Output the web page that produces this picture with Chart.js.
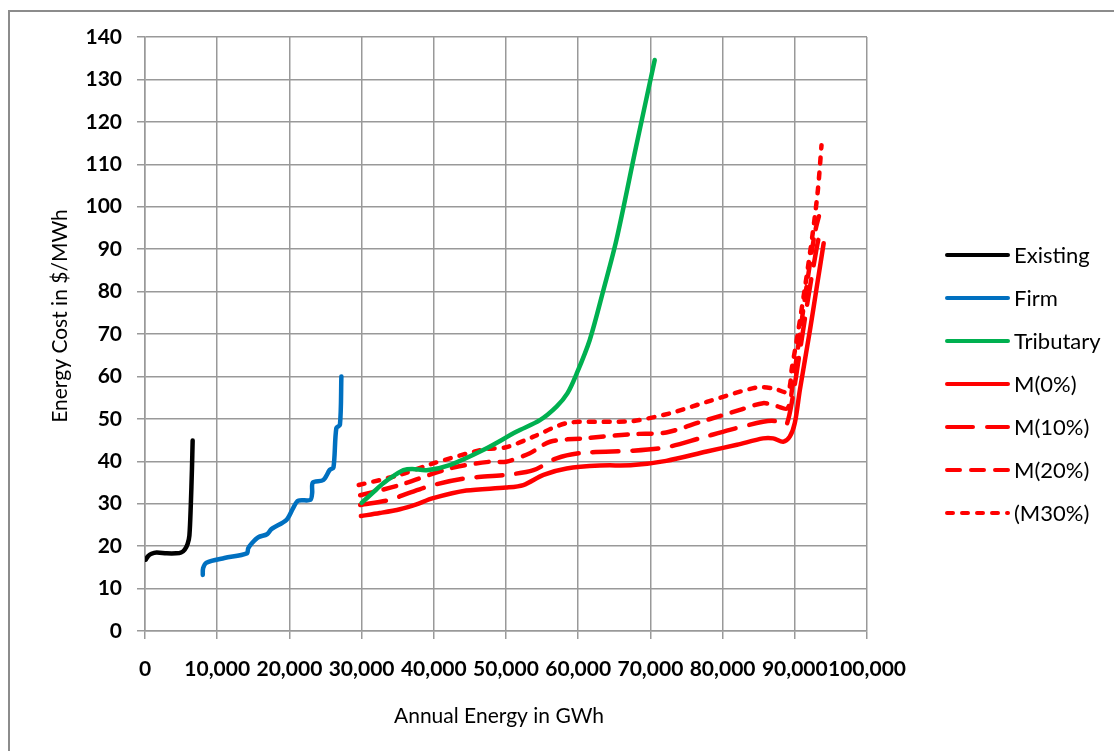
<!DOCTYPE html>
<html>
<head>
<meta charset="utf-8">
<title>Energy Cost Supply Curves</title>
<script src="https://cdn.jsdelivr.net/npm/chart.js@4/dist/chart.umd.min.js"></script>
<style>
  html, body { margin: 0; padding: 0; background: #ffffff; }
  canvas { display: block; }
</style>
</head>
<body>
<canvas id="chart" width="1114" height="751"></canvas>
<script>
// Supply curves: annual energy (GWh) against energy cost ($/MWh)
const existingEnergy = [100, 400, 900, 1600, 3000, 4300, 5000, 5500, 5900, 6150, 6350, 6500, 6600];
const existingCost   = [16.8, 17.6, 18.2, 18.5, 18.3, 18.3, 18.5, 19.2, 20.5, 22.5, 30, 38, 44.9];

const firmEnergy = [8000, 8050, 8500, 11000, 14100, 14300, 14800, 15700, 16900, 17500, 19600, 20500, 21200, 22900, 23150, 23250, 24700, 25600, 26100, 26500, 27000, 27200];
const firmCost   = [13.2, 14.8, 16.1, 17.2, 18.3, 19.5, 20.7, 22.1, 22.8, 24, 26.2, 28.9, 30.7, 30.9, 32.5, 35, 35.6, 38, 38.5, 47.8, 48.6, 60];

const tributaryEnergy = [30000, 31500, 33000, 34500, 35800, 37000, 39000, 42200, 46900, 51500, 54700, 57000, 58500, 59800, 61600, 63500, 65300, 68000, 70600];
const tributaryCost   = [30.2, 32.5, 34.8, 36.6, 37.9, 38.2, 37.9, 39.1, 42.7, 47, 49.7, 52.9, 56, 60.7, 68.6, 80.4, 92.2, 114, 134.6];

const m0Energy = [29900, 32500, 35300, 37500, 39900, 44500, 50000, 52400, 55200, 58400, 63000, 67600, 72200, 77800, 82000, 85600, 87000, 88400, 89300, 90000, 90700, 92100, 93000, 94000];
const m0Cost   = [27.1, 27.8, 28.7, 29.8, 31.3, 33.1, 33.8, 34.4, 36.8, 38.3, 39, 39.1, 40.1, 42.3, 43.9, 45.4, 45.4, 44.6, 45.8, 49, 56.8, 70.9, 80.6, 91.4];

const m10Energy = [29800, 33900, 36500, 39900, 44500, 50000, 53800, 57000, 60700, 67600, 72200, 77000, 81000, 85600, 87200, 88400, 88900, 89600, 90800, 91900, 93000, 93600];
const m10Cost   = [29.7, 30.9, 32.5, 34.4, 36, 36.8, 37.9, 40.7, 42, 42.5, 43.3, 45.5, 47.4, 49.3, 49.5, 48.6, 48.8, 54, 67, 79, 90, 95];

const m20Energy = [29800, 35300, 42200, 47800, 50000, 53300, 56100, 60700, 67600, 72200, 77000, 82400, 85600, 87500, 89000, 89700, 90700, 91700, 92800, 93700];
const m20Cost   = [32, 34.4, 38.3, 39.9, 39.9, 41.9, 44.6, 45.4, 46.4, 46.8, 49.3, 52.1, 53.7, 53, 52.5, 58, 70, 82, 94, 100];

const m30Energy = [29600, 35300, 39900, 46900, 50000, 53800, 58400, 63500, 67600, 72700, 77800, 84700, 87000, 89000, 89600, 90500, 91500, 92500, 93200, 93700];
const m30Cost   = [34.4, 36.8, 39.5, 42.8, 43.3, 45.8, 49, 49.3, 49.5, 51.3, 54, 57.4, 57.2, 56.4, 62, 71, 82, 94, 104, 114.5];

const seriesNames = ['Existing', 'Firm', 'Tributary', 'M(0%)', 'M(10%)', 'M(20%)', '(M30%)'];

const xTicks = [0, 10000, 20000, 30000, 40000, 50000, 60000, 70000, 80000, 90000, 100000];
const yTicks = [0, 10, 20, 30, 40, 50, 60, 70, 80, 90, 100, 110, 120, 130, 140];

const xTitle = 'Annual Energy in GWh';
const yTitle = 'Energy Cost in $/MWh';

function pairs(xs, ys) {
  return xs.map((x, i) => ({ x: x, y: ys[i] }));
}

const RED = '#ff0000';
const GRID = '#999999';

function series(label, xs, ys, color, dash) {
  return {
    label: label,
    data: pairs(xs, ys),
    borderColor: color,
    backgroundColor: color,
    borderWidth: 4.5,
    borderDash: dash,
    borderCapStyle: 'round',
    borderJoinStyle: 'round',
    pointRadius: 0,
    pointHoverRadius: 0,
    tension: 0.3,
    fill: false
  };
}

const datasets = [
  series(seriesNames[0], existingEnergy, existingCost, '#000000', []),
  series(seriesNames[1], firmEnergy, firmCost, '#0070c0', []),
  series(seriesNames[2], tributaryEnergy, tributaryCost, '#00b050', []),
  series(seriesNames[3], m0Energy, m0Cost, RED, []),
  series(seriesNames[4], m10Energy, m10Cost, RED, [26, 14]),
  series(seriesNames[5], m20Energy, m20Cost, RED, [13, 11]),
  series(seriesNames[6], m30Energy, m30Cost, RED, [6, 9])
];

// White background, outer frame, axis titles and a line-style legend
const chartDecor = {
  id: 'chartDecor',
  beforeDraw(chart) {
    const ctx = chart.ctx;
    ctx.save();
    ctx.fillStyle = '#ffffff';
    ctx.fillRect(0, 0, chart.width, chart.height);
    ctx.fillStyle = '#8c8c8c';
    ctx.fillRect(8, 10, chart.width, 2);
    ctx.fillRect(8, 10, 2, chart.height);
    ctx.restore();
  },
  afterDraw(chart) {
    const ctx = chart.ctx;
    const area = chart.chartArea;
    ctx.save();
    ctx.fillStyle = '#000000';
    ctx.font = '21px Lato';
    ctx.textAlign = 'center';
    ctx.textBaseline = 'middle';
    ctx.fillText(xTitle, (area.left + area.right) / 2 - 7, 716);
    ctx.save();
    ctx.translate(60, 316);
    ctx.rotate(-Math.PI / 2);
    ctx.fillText(yTitle, 0, 0);
    ctx.restore();

    // legend
    const x0 = 945, x1 = 1010, top = 255, step = 43;
    ctx.font = '22px Lato';
    ctx.textAlign = 'left';
    chart.data.datasets.forEach((ds, i) => {
      const y = top + i * step;
      ctx.beginPath();
      ctx.strokeStyle = ds.borderColor;
      ctx.lineWidth = 4;
      ctx.lineCap = 'round';
      ctx.setLineDash(ds.borderDash || []);
      ctx.moveTo(x0 + 2, y);
      ctx.lineTo(x1 - 2, y);
      ctx.stroke();
      ctx.setLineDash([]);
      ctx.fillStyle = '#000000';
      ctx.fillText(ds.label, 1014, y + 1);
    });
    ctx.restore();
  }
};

new Chart(document.getElementById('chart'), {
  type: 'line',
  data: { datasets: datasets },
  plugins: [chartDecor],
  options: {
    responsive: false,
    devicePixelRatio: 1,
    animation: false,
    layout: { padding: { left: 0, top: 37, right: 247, bottom: 0 } },
    plugins: {
      legend: { display: false },
      tooltip: { enabled: false },
      title: { display: false }
    },
    scales: {
      x: {
        type: 'linear',
        min: xTicks[0],
        max: xTicks[xTicks.length - 1],
        afterBuildTicks(scale) { scale.ticks = xTicks.map(v => ({ value: v })); },
        afterFit(scale) { scale.height = 120; },
        grid: { color: GRID, lineWidth: 1.5, tickLength: 8, tickColor: GRID, drawTicks: true },
        border: { color: GRID, width: 1.5 },
        ticks: {
          autoSkip: false,
          maxRotation: 0,
          padding: 18,
          color: '#000000',
          font: { family: 'Lato', size: 21, weight: 'bold' },
          callback: v => v.toLocaleString('en-US')
        }
      },
      y: {
        type: 'linear',
        min: yTicks[0],
        max: yTicks[yTicks.length - 1],
        afterBuildTicks(scale) { scale.ticks = yTicks.map(v => ({ value: v })); },
        afterFit(scale) { scale.width = 145; },
        grid: { color: GRID, lineWidth: 1.5, tickLength: 8, tickColor: GRID, drawTicks: true },
        border: { color: GRID, width: 1.5 },
        ticks: {
          padding: 15,
          color: '#000000',
          font: { family: 'Lato', size: 21, weight: 'bold' },
          callback: v => String(v)
        }
      }
    }
  }
});
</script>
</body>
</html>
